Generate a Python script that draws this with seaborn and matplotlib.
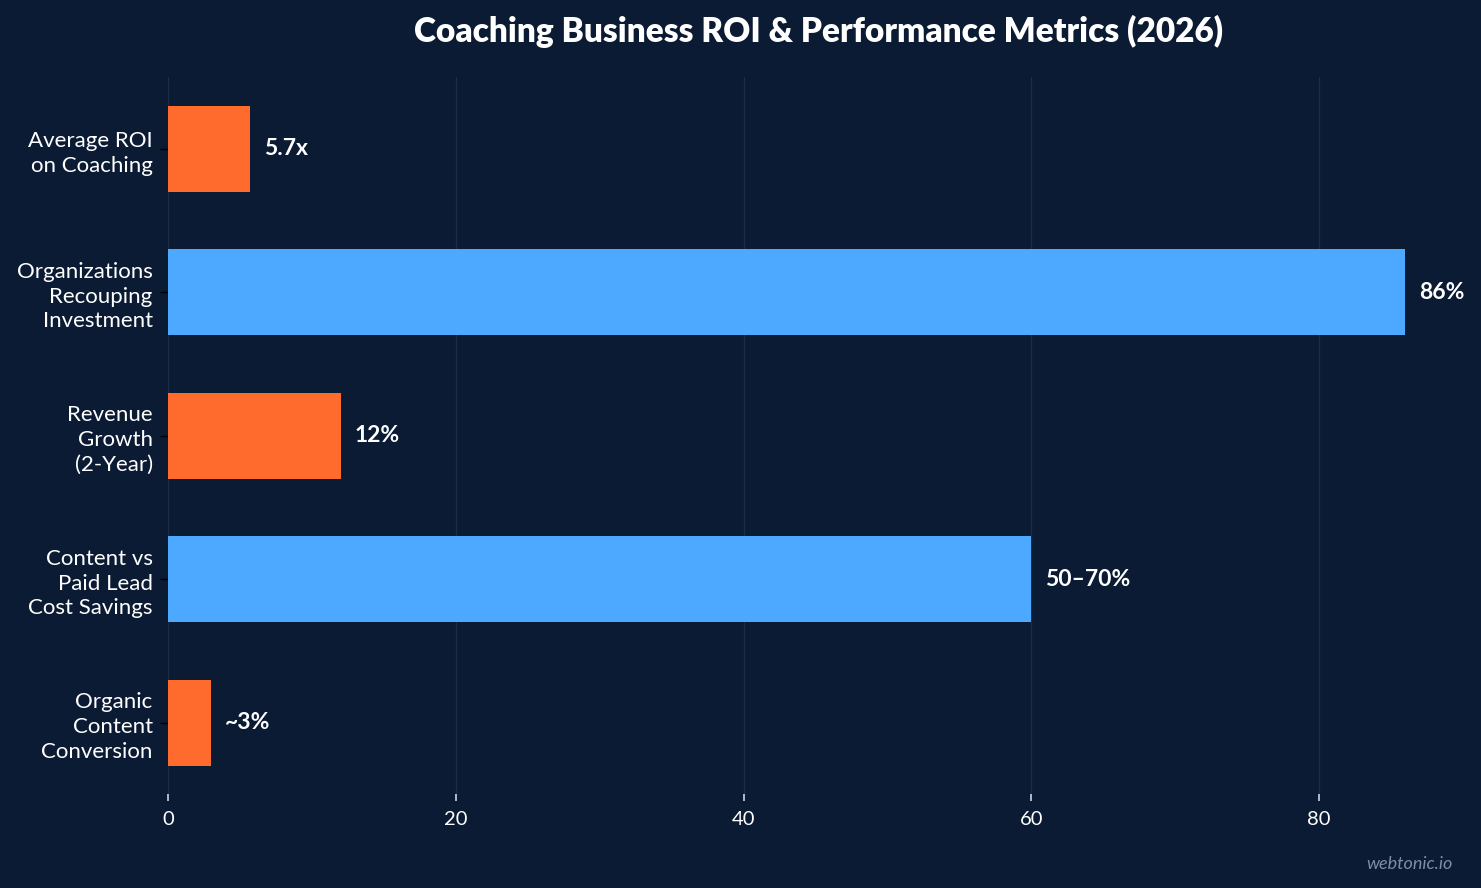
import numpy as np
import pandas as pd
import matplotlib.pyplot as plt
import seaborn as sns

categories = [
    "Average ROI\non Coaching",
    "Organizations\nRecouping\nInvestment",
    "Revenue\nGrowth\n(2-Year)",
    "Content vs\nPaid Lead\nCost Savings",
    "Organic\nContent\nConversion",
]
values = [5.7, 86, 12, 60, 3]
value_labels = ["5.7x", "86%", "12%", "50–70%", "~3%"]
bar_colors = ["#FF6B2C", "#4DA8FF", "#FF6B2C", "#4DA8FF", "#FF6B2C"]
x_ticks = [0, 20, 40, 60, 80]

bg = "#0B1B33"

sns.set_style("dark")
plt.rcParams['font.family'] = ['Lato', 'DejaVu Sans']


def main():
    df = pd.DataFrame({"Metric": categories, "Value": values})

    fig = plt.figure(figsize=(14.81, 8.88), dpi=100, facecolor=bg)
    ax = fig.add_axes([0.1134, 0.1055, 0.8793, 0.8078])
    ax.set_facecolor(bg)

    sns.barplot(data=df, x="Value", y="Metric", hue="Metric", palette=bar_colors,
                orient="h", width=0.6, legend=False, saturation=1, linewidth=0,
                ax=ax)

    for patch, lab in zip(ax.patches, value_labels):
        w = patch.get_width()
        yc = patch.get_y() + patch.get_height() / 2
        ax.annotate(lab, xy=(w, yc), xytext=(10, 0), textcoords="offset points",
                    ha="left", va="center", color="white", fontsize=16.5,
                    fontweight="bold")

    ax.set_xlim(0, 90.5)
    ax.set_ylim(4.5, -0.5)
    ax.set_xticks(x_ticks)
    ax.set_xlabel("")
    ax.set_ylabel("")
    ax.grid(axis="x", color="#1D2C45", linewidth=0.9)
    ax.grid(axis="y", visible=False)
    ax.set_axisbelow(True)
    for s in ax.spines.values():
        s.set_visible(False)

    ax.tick_params(axis="x", colors="#D0D4DA", labelcolor="white", labelsize=14.5,
                   length=5, width=1.2, bottom=True, pad=7)
    ax.tick_params(axis="y", colors="#000000", labelcolor="white", labelsize=16,
                   length=6, width=1, left=True, pad=5)
    for t in ax.get_yticklabels():
        t.set_linespacing(1.3)

    fig.suptitle("Coaching Business ROI & Performance Metrics (2026)", color="white",
                 fontsize=24, fontweight="heavy", x=0.553, y=0.983, va="top")
    fig.text(0.981, 0.018, "webtonic.io", color="#7F8DA3", fontsize=13,
             style="italic", ha="right", va="bottom")

    plt.savefig("out.png", dpi=100, facecolor=bg)


if __name__ == "__main__":
    main()
